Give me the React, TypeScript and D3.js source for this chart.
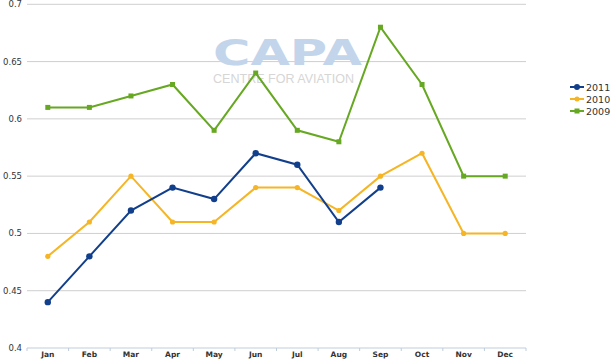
import React from "react";
import * as d3 from "d3";

const months = ["Jan","Feb","Mar","Apr","May","Jun","Jul","Aug","Sep","Oct","Nov","Dec"];
const s2011 = [0.44,0.48,0.52,0.54,0.53,0.57,0.56,0.51,0.54];
const s2010 = [0.48,0.51,0.55,0.51,0.51,0.54,0.54,0.52,0.55,0.57,0.50,0.50];
const s2009 = [0.61,0.61,0.62,0.63,0.59,0.64,0.59,0.58,0.68,0.63,0.55,0.55];
const yTicks = [0.4,0.45,0.5,0.55,0.6,0.65,0.7];
const seriesNames = ["2011","2010","2009"];

const colors: Record<string, string> = { "2011": "#123f8c", "2010": "#f5b524", "2009": "#67a822" };

export default function App() {
  const W = 610, H = 360;
  const x = d3.scaleBand<string>().domain(months).range([27, 526]);
  const y = d3.scaleLinear().domain([0.4, 0.7]).range([348, 4.3]);
  const cx = (i: number) => (x(months[i]) as number) + x.bandwidth() / 2;
  const line = d3.line<number>().x((_, i) => cx(i)).y((d) => y(d));
  const series: [string, number[]][] = [["2009", s2009], ["2010", s2010], ["2011", s2011]];
  const font = "'DejaVu Sans', Verdana, sans-serif";

  return (
    <svg width={W} height={H} style={{ position: "absolute", left: 0, top: 0, background: "#fff" }}>
      {yTicks.filter((t) => t > 0.4).map((t) => (
        <line key={t} x1={27} x2={526} y1={y(t)} y2={y(t)} stroke="#cfcfcf" strokeWidth={1} />
      ))}
      <line x1={27} x2={526} y1={y(0.4)} y2={y(0.4)} stroke="#bfcddb" strokeWidth={1} />
      {d3.range(months.length + 1).map((i) => {
        const xx = 27 + i * x.step();
        return <line key={i} x1={xx} x2={xx} y1={y(0.4)} y2={y(0.4) + 3} stroke="#bfcddb" strokeWidth={1} />;
      })}
      {yTicks.map((t) => (
        <text key={t} x={22} y={y(t) + 3} textAnchor="end" fontSize={8.5} fontFamily={font} fill="#333">
          {String(t)}
        </text>
      ))}
      {months.map((m, i) => (
        <text key={m} x={cx(i)} y={357} textAnchor="middle" fontSize={7.5} fontWeight="bold" fontFamily={font} fill="#333">
          {m}
        </text>
      ))}
      {/* watermark */}
      <text x={213} y={65} fontSize={35} fontWeight="bold" fontFamily={font} fill="#c3d5eb" textLength={149} lengthAdjust="spacingAndGlyphs">CAPA</text>
      <text x={213} y={83} fontSize={13} fontFamily="'Liberation Sans', Arial, sans-serif" fill="#d6d6d6" textLength={141} lengthAdjust="spacingAndGlyphs">CENTRE FOR AVIATION</text>
      {series.map(([name, vals]) => (
        <g key={name}>
          <path d={line(vals) || ""} fill="none" stroke={colors[name]} strokeWidth={2} />
          {vals.map((v, i) =>
            name === "2011" ? (
              <circle key={i} cx={cx(i)} cy={y(v)} r={3.2} fill={colors[name]} />
            ) : name === "2010" ? (
              <circle key={i} cx={cx(i)} cy={y(v)} r={2.6} fill={colors[name]} />
            ) : (
              <rect key={i} x={cx(i) - 2.5} y={y(v) - 2.5} width={5} height={5} fill={colors[name]} />
            )
          )}
        </g>
      ))}
      {seriesNames.map((name, k) => {
        const ly = 87 + k * 12;
        return (
          <g key={name}>
            <line x1={570} x2={584} y1={ly} y2={ly} stroke={colors[name]} strokeWidth={2} />
            {name === "2009" ? (
              <rect x={574.5} y={ly - 2.5} width={5} height={5} fill={colors[name]} />
            ) : (
              <circle cx={577} cy={ly} r={name === "2011" ? 3 : 2.5} fill={colors[name]} />
            )}
            <text x={586} y={ly + 3.5} fontSize={9.5} fontFamily={font} fill="#333">{name}</text>
          </g>
        );
      })}
    </svg>
  );
}
